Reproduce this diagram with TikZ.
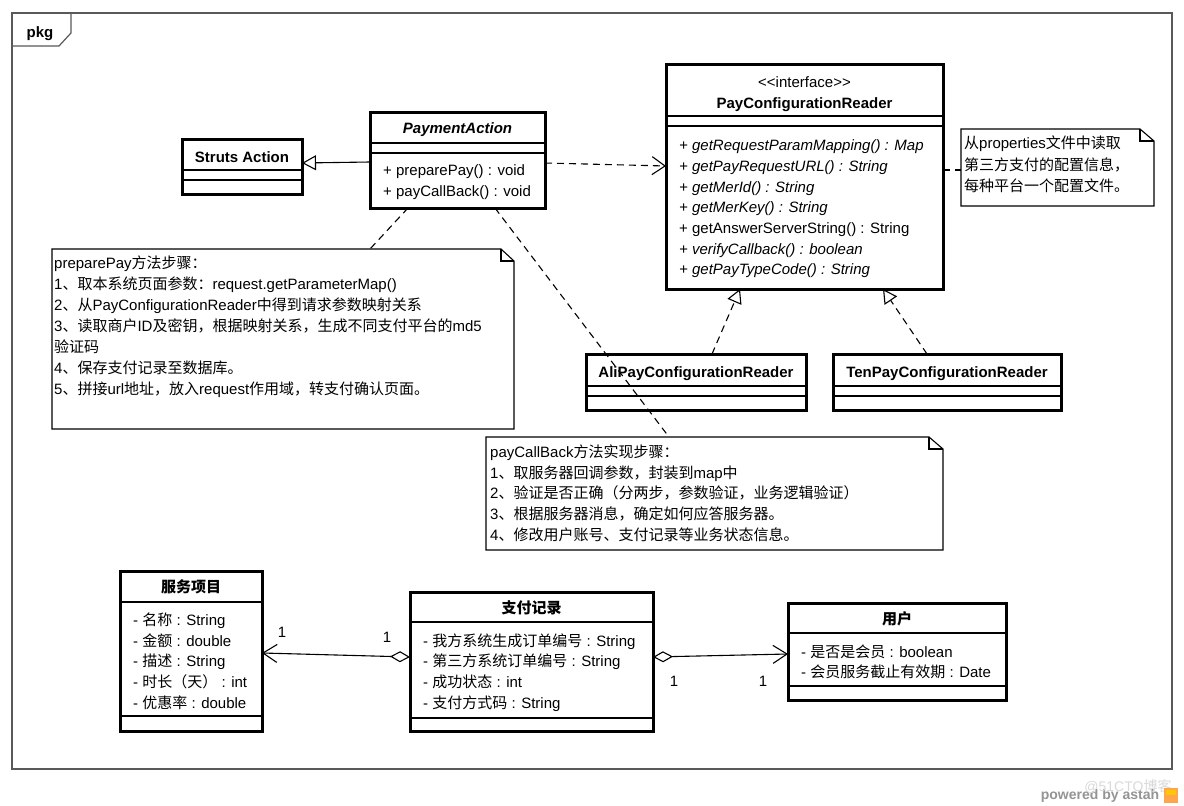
\documentclass[tikz,border=0pt]{standalone}
\usepackage{fontspec}
\setmainfont{Liberation Sans}
\newfontfamily\zhfont{Noto Sans CJK SC}
\usetikzlibrary{arrows.meta}
\newcommand\zh[1]{{\zhfont #1}}
\newcommand\fs{\fontsize{15}{18}\selectfont}
\begin{document}
\begin{tikzpicture}[x=1pt,y=-1pt,
  cls/.style={draw, line width=3pt, inner sep=0pt, outer sep=0pt, anchor=north west},
  notearea/.style={inner sep=0pt, outer sep=0pt, anchor=north west},
  sepl/.style={line width=1.2pt},
  noteline/.style={line width=1.1pt, line join=miter},
  dep/.style={line width=1.1pt, dash pattern=on 7pt off 5pt},
  txt/.style={anchor=base west, inner sep=0pt, font=\fs},
  ctxt/.style={anchor=base, inner sep=0pt, font=\fs},
  btxt/.style={anchor=base, inner sep=0pt, font=\fs\bfseries},
  inh/.style={-{Triangle[open, length=14pt, width=15pt]}},
  opena/.style={-{Straight Barb[length=13pt, width=18pt]}},
  agg/.style={{Diamond[open, length=20pt, width=11pt]}-{Straight Barb[length=14pt, width=18pt]}},
  frameline/.style={line width=1.2pt, draw=black!65}
]
\useasboundingbox (0,0) rectangle (1184,806);
\fill[white] (0,0) rectangle (1184,806);

% package frame
\draw[frameline] (12,13) rectangle (1172,769);
\draw[frameline] (12,46) -- (59,46) -- (71,33) -- (71,13);
\node[btxt] (pkg) at (40,37) {pkg};

% Struts Action
\node[cls, minimum width=120pt, minimum height=55pt] (sa) at (182,139) {};
\node[btxt] at (242,162) {Struts Action};
\draw[sepl] (sa.west |- 0,170) -- (sa.east |- 0,170);
\draw[sepl] (sa.west |- 0,180) -- (sa.east |- 0,180);

% PaymentAction
\node[cls, minimum width=175pt, minimum height=96pt] (pa) at (370,112) {};
\node[btxt, font=\fs\bfseries\itshape] at (457.5,133) {PaymentAction};
\draw[sepl] (pa.west |- 0,143) -- (pa.east |- 0,143);
\draw[sepl] (pa.west |- 0,153) -- (pa.east |- 0,153);
\node[txt] at (383,175) {+ preparePay() : void};
\node[txt] at (383,196) {+ payCallBack() : void};

% PayConfigurationReader
\node[cls, minimum width=277pt, minimum height=225pt] (pcr) at (666,64) {};
\node[ctxt] at (804.5,87) {{<}{<}interface{>}{>}};
\node[btxt] at (804.5,108) {PayConfigurationReader};
\draw[sepl] (pcr.west |- 0,116) -- (pcr.east |- 0,116);
\draw[sepl] (pcr.west |- 0,126) -- (pcr.east |- 0,126);
\node[txt, font=\fs\itshape] at (679,150) {+ getRequestParamMapping() : Map};
\node[txt, font=\fs\itshape] at (679,171) {+ getPayRequestURL() : String};
\node[txt, font=\fs\itshape] at (679,192) {+ getMerId() : String};
\node[txt, font=\fs\itshape] at (679,212) {+ getMerKey() : String};
\node[txt] at (679,233) {+ getAnswerServerString() : String};
\node[txt, font=\fs\itshape] at (679,254) {+ verifyCallback() : boolean};
\node[txt, font=\fs\itshape] at (679,274) {+ getPayTypeCode() : String};

% right note
\node[notearea, minimum width=193pt, minimum height=77pt] (rn) at (961,129) {};
\draw[noteline] (rn.north west) -- ([xshift=-14pt]rn.north east) -- ([yshift=-12pt]rn.north east) -- (rn.south east) -- (rn.south west) -- cycle;
\draw[noteline] ([xshift=-14pt]rn.north east) -- ([xshift=-14pt,yshift=-12pt]rn.north east) -- ([yshift=-12pt]rn.north east);
\node[txt] at (964,148) {\zh{从}properties\zh{文件中读取}};
\node[txt] at (964,170) {\zh{第三方支付的配置信息，}};
\node[txt] at (964,191) {\zh{每种平台一个配置文件。}};

% left note
\node[notearea, minimum width=462pt, minimum height=180pt] (ln) at (52,249) {};
\draw[noteline] (ln.north west) -- ([xshift=-13pt]ln.north east) -- ([yshift=-12pt]ln.north east) -- (ln.south east) -- (ln.south west) -- cycle;
\draw[noteline] ([xshift=-13pt]ln.north east) -- ([xshift=-13pt,yshift=-12pt]ln.north east) -- ([yshift=-12pt]ln.north east);
\node[txt] at (54,268) {preparePay\zh{方法步骤：}};
\node[txt] at (54,289) {1\zh{、取本系统页面参数：}request.getParameterMap()};
\node[txt] at (54,310) {2\zh{、从}PayConfigurationReader\zh{中得到请求参数映射关系}};
\node[txt] at (54,331) {3\zh{、读取商户}ID\zh{及密钥，根据映射关系，生成不同支付平台的}md5};
\node[txt] at (54,352) {\zh{验证码}};
\node[txt] at (54,373) {4\zh{、保存支付记录至数据库。}};
\node[txt] at (54,394) {5\zh{、拼接}url\zh{地址，放入}request\zh{作用域，转支付确认页面。}};

% AliPay / TenPay
\node[cls, minimum width=220pt, minimum height=56pt] (ali) at (586,354) {};
\node[btxt] at (696,377) {AliPayConfigurationReader};
\draw[sepl] (ali.west |- 0,386) -- (ali.east |- 0,386);
\draw[sepl] (ali.west |- 0,396) -- (ali.east |- 0,396);
\node[cls, minimum width=228pt, minimum height=56pt] (ten) at (833,354) {};
\node[btxt] at (947,377) {TenPayConfigurationReader};
\draw[sepl] (ten.west |- 0,386) -- (ten.east |- 0,386);
\draw[sepl] (ten.west |- 0,396) -- (ten.east |- 0,396);

% callback note
\node[notearea, minimum width=457pt, minimum height=113pt] (cn) at (486,437) {};
\draw[noteline] (cn.north west) -- ([xshift=-14pt]cn.north east) -- ([yshift=-12pt]cn.north east) -- (cn.south east) -- (cn.south west) -- cycle;
\draw[noteline] ([xshift=-14pt]cn.north east) -- ([xshift=-14pt,yshift=-12pt]cn.north east) -- ([yshift=-12pt]cn.north east);
\node[txt] at (490,457) {payCallBack\zh{方法实现步骤：}};
\node[txt] at (490,478) {1\zh{、取服务器回调参数，封装到}map\zh{中}};
\node[txt] at (490,498) {2\zh{、验证是否正确（分两步，参数验证，业务逻辑验证）}};
\node[txt] at (490,519) {3\zh{、根据服务器消息，确定如何应答服务器。}};
\node[txt] at (490,540) {4\zh{、修改用户账号、支付记录等业务状态信息。}};

% 服务项目
\node[cls, minimum width=142pt, minimum height=160pt] (fw) at (120,571) {};
\node[btxt] at (191,592) {\zh{服务项目}};
\draw[sepl] (fw.west |- 0,602) -- (fw.east |- 0,602);
\node[txt] at (133,625) {- \zh{名称} : String};
\node[txt] at (133,646) {- \zh{金额} : double};
\node[txt] at (133,666) {- \zh{描述} : String};
\node[txt] at (133,687) {- \zh{时长（天）} : int};
\node[txt] at (133,708) {- \zh{优惠率} : double};
\draw[sepl] (fw.west |- 0,716) -- (fw.east |- 0,716);

% 支付记录
\node[cls, minimum width=243pt, minimum height=139pt] (zf) at (410,592) {};
\node[btxt] at (531.5,613) {\zh{支付记录}};
\draw[sepl] (zf.west |- 0,622) -- (zf.east |- 0,622);
\node[txt] at (423,646) {- \zh{我方系统生成订单编号} : String};
\node[txt] at (423,666) {- \zh{第三方系统订单编号} : String};
\node[txt] at (423,687) {- \zh{成功状态} : int};
\node[txt] at (423,708) {- \zh{支付方式码} : String};
\draw[sepl] (zf.west |- 0,718) -- (zf.east |- 0,718);

% 用户
\node[cls, minimum width=218pt, minimum height=97pt] (yh) at (788,603) {};
\node[btxt] at (897,624) {\zh{用户}};
\draw[sepl] (yh.west |- 0,633) -- (yh.east |- 0,633);
\node[txt] at (801,657) {- \zh{是否是会员} : boolean};
\node[txt] at (801,677) {- \zh{会员服务截止有效期} : Date};
\draw[sepl] (yh.west |- 0,686) -- (yh.east |- 0,686);

% connectors
\draw[line width=1.1pt, inh] (pa.west |- 0,162) -- (sa.east |- 0,163);
\draw[dep, opena] (pa.east |- 0,163) -- (pcr.west |- 0,166);
\draw[dep] (pcr.east |- 0,170) -- (rn.west |- 0,170);
\draw[dep] (pa.south -| 408,0) -- (ln.north -| 370,0);
\draw[dep] (pa.south -| 495,0) -- (cn.north -| 669,0);
\draw[dep, inh] (ali.north -| 712,0) -- (pcr.south -| 740,0);
\draw[dep, inh] (ten.north -| 927,0) -- (pcr.south -| 883,0);
\draw[line width=1.1pt, agg] (zf.west |- 0,657) -- (fw.east |- 0,653);
\draw[line width=1.1pt, agg] (zf.east |- 0,657) -- (yh.west |- 0,654);
\node[ctxt] at (282,637) {1};
\node[ctxt] at (387,642) {1};
\node[ctxt] at (674,686) {1};
\node[ctxt] at (763,686) {1};

% watermark
\node[anchor=base, inner sep=0pt, text=black!42, font=\fontsize{14}{16}\selectfont\bfseries] (wm) at (1100,799) {powered by astah};
\node[anchor=base, inner sep=0pt, text=black!15, font=\fontsize{14}{16}\selectfont] (wm2) at (1128,791) {@51CTO\zh{博客}};
\fill[orange!70] (1164,788) rectangle (1178,803);
\fill[yellow!60!orange] (1166,790) rectangle (1176,795);
\end{tikzpicture}
\end{document}
